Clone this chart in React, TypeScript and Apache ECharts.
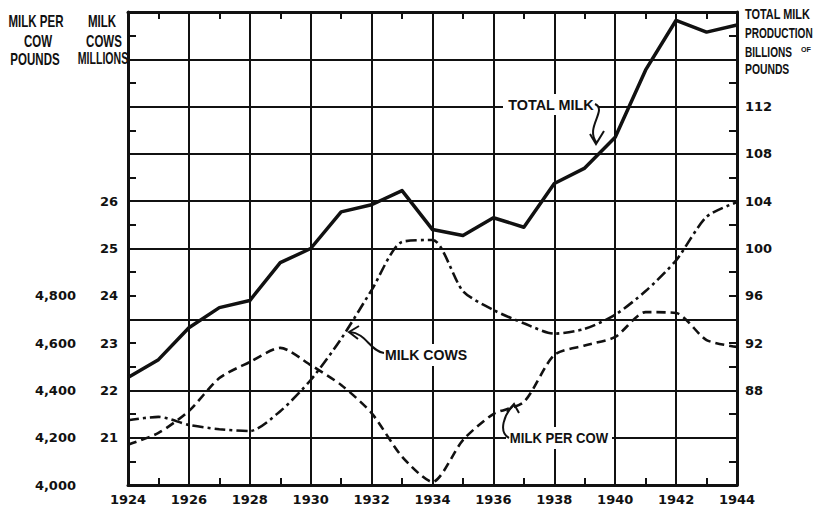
import React, { useEffect, useRef } from "react";
import * as echarts from "echarts";

const years = [1924, 1925, 1926, 1927, 1928, 1929, 1930, 1931, 1932, 1933, 1934, 1935, 1936, 1937, 1938, 1939, 1940, 1941, 1942, 1943, 1944];
// Total milk production, billions of pounds (right axis)
const totalMilk = [89.1, 90.6, 93.3, 95.0, 95.6, 98.8, 100.0, 103.1, 103.7, 104.9, 101.6, 101.1, 102.6, 101.8, 105.5, 106.8, 109.4, 115.1, 119.3, 118.3, 118.9];
// Milk cows, millions
const milkCows = [21.37, 21.44, 21.27, 21.18, 21.14, 21.56, 22.22, 23.09, 24.12, 25.14, 25.18, 24.1, 23.7, 23.42, 23.2, 23.3, 23.6, 24.1, 24.75, 25.67, 25.98];
// Milk per cow, pounds
const milkPerCow = [4170, 4220, 4313, 4452, 4520, 4580, 4507, 4423, 4304, 4120, 4013, 4190, 4300, 4351, 4550, 4590, 4626, 4731, 4727, 4613, 4584];

const cowLabels = [21, 22, 23, 24, 25, 26];
const perCowLabels = [4000, 4200, 4400, 4600, 4800];
const totalLabels = [88, 92, 96, 100, 104, 108, 112];
const gridLevels = [21, 22, 23.5, 25, 26, 27, 28, 29];

const HEAD_FONT = '"Liberation Sans", Arial, sans-serif';
const TICK_FONT = '"DejaVu Sans", sans-serif';
const INK = "#111";

function txt(text: string, x: number, y: number, size: number, sx: number, align: string = "center") {
  return {
    type: "text",
    x,
    y,
    scaleX: sx,
    z: 60,
    silent: true,
    style: {
      text,
      x: 0,
      y: 0,
      fill: INK,
      fontSize: size,
      fontWeight: "bold",
      fontFamily: HEAD_FONT,
      align,
      verticalAlign: "middle",
      textAlign: align,
      textVerticalAlign: "middle",
    },
  };
}

function whiteBox(x: number, y: number, w: number, h: number) {
  return { type: "rect", z: 55, silent: true, shape: { x, y, width: w, height: h }, style: { fill: "#fff" } };
}

function curve(x1: number, y1: number, cpx1: number, cpy1: number, cpx2: number, cpy2: number, x2: number, y2: number) {
  return {
    type: "bezierCurve",
    z: 60,
    silent: true,
    shape: { x1, y1, cpx1, cpy1, cpx2, cpy2, x2, y2 },
    style: { stroke: INK, lineWidth: 2, fill: "none" },
  };
}

function head(points: number[][]) {
  return { type: "polyline", z: 60, silent: true, shape: { points }, style: { stroke: INK, lineWidth: 2, fill: "none" } };
}

export default function App() {
  const ref = useRef<HTMLDivElement>(null);
  useEffect(() => {
    const chart = echarts.init(ref.current!, null, { renderer: "svg" });
    const tickLabel = { color: INK, fontFamily: TICK_FONT, fontWeight: "bold", fontSize: 13 };
    const axisLine = { show: true, onZero: false, lineStyle: { color: INK, width: 3 } };
    const inTick = { show: true, inside: true, length: 8, lineStyle: { color: INK, width: 2 } };
    const minor = { show: true, splitNumber: 2, length: 8, lineStyle: { color: INK, width: 2 } };

    const option = {
      animation: false,
      backgroundColor: "#fff",
      grid: { left: 128, right: 80, top: 12, bottom: 22 },
      xAxis: [
        {
          type: "value",
          position: "bottom",
          min: 1924,
          max: 1944,
          interval: 2,
          axisLine,
          axisTick: { ...inTick, length: 7 },
          minorTick: { ...minor, length: 7 },
          splitLine: { show: true, lineStyle: { color: INK, width: 2 } },
          axisLabel: { ...tickLabel, margin: 8, formatter: (v: number) => String(v) },
        },
        {
          type: "value",
          position: "top",
          min: 1924,
          max: 1944,
          interval: 2,
          axisLine,
          axisTick: { ...inTick, length: 7 },
          minorTick: { ...minor, length: 7 },
          splitLine: { show: false },
          axisLabel: { show: false },
        },
      ],
      yAxis: [
        {
          type: "value",
          position: "left",
          min: 20,
          max: 30,
          interval: 1,
          axisLine,
          axisTick: inTick,
          minorTick: minor,
          splitLine: { show: false },
          axisLabel: {
            ...tickLabel,
            margin: 10,
            formatter: (v: number) => (cowLabels.includes(v) ? String(v) : ""),
          },
        },
        {
          type: "value",
          position: "left",
          min: 4000,
          max: 6000,
          interval: 200,
          axisLine: { show: false },
          axisTick: { show: false },
          splitLine: { show: false },
          axisLabel: {
            ...tickLabel,
            margin: 52,
            formatter: (v: number) =>
              perCowLabels.includes(v) ? `${Math.floor(v / 1000)},${String(v % 1000).padStart(3, "0")}` : "",
          },
        },
        {
          type: "value",
          position: "right",
          min: 80,
          max: 120,
          interval: 4,
          axisLine,
          axisTick: inTick,
          minorTick: minor,
          splitLine: { show: false },
          axisLabel: {
            ...tickLabel,
            margin: 8,
            formatter: (v: number) => (totalLabels.includes(v) ? String(v) : ""),
          },
        },
      ],
      series: [
        {
          type: "line",
          name: "grid",
          xAxisIndex: 0,
          yAxisIndex: 0,
          data: [[1924, 20]],
          showSymbol: false,
          symbol: "none",
          silent: true,
          z: 1,
          lineStyle: { width: 0, opacity: 0 },
          markLine: {
            silent: true,
            symbol: ["none", "none"],
            label: { show: false },
            lineStyle: { color: INK, width: 2, type: "solid" },
            data: gridLevels.map((v) => ({ yAxis: v })),
          },
        },
        {
          type: "line",
          name: "Total milk",
          xAxisIndex: 0,
          yAxisIndex: 2,
          data: years.map((y, i) => [y, totalMilk[i]]),
          symbol: "none",
          silent: true,
          z: 5,
          lineStyle: { color: INK, width: 3.5, join: "round" },
        },
        {
          type: "line",
          name: "Milk cows",
          xAxisIndex: 0,
          yAxisIndex: 0,
          data: years.map((y, i) => [y, milkCows[i]]),
          symbol: "none",
          silent: true,
          smooth: 0.25,
          z: 5,
          lineStyle: { color: INK, width: 2.6, type: [11, 4, 3, 4] },
        },
        {
          type: "line",
          name: "Milk per cow",
          xAxisIndex: 0,
          yAxisIndex: 1,
          data: years.map((y, i) => [y, milkPerCow[i]]),
          symbol: "none",
          silent: true,
          smooth: 0.25,
          z: 5,
          lineStyle: { color: INK, width: 2.6, type: [9, 5] },
        },
      ],
      graphic: [
        // axis titles
        txt("MILK PER", 36, 21, 16, 0.72),
        txt("COW", 38, 41, 16, 0.72),
        txt("POUNDS", 35, 59, 16, 0.72),
        txt("MILK", 102, 21, 16, 0.72),
        txt("COWS", 104, 41, 16, 0.72),
        txt("MILLIONS", 103, 59, 16, 0.66),
        txt("TOTAL MILK", 745, 15, 14, 0.78, "left"),
        txt("PRODUCTION", 745, 33, 14, 0.72, "left"),
        txt("BILLIONS", 745, 52, 14, 0.72, "left"),
        txt("OF", 801, 49, 8, 0.9, "left"),
        txt("POUNDS", 745, 69, 14, 0.74, "left"),
        // annotations
        whiteBox(503, 94, 95, 21),
        txt("TOTAL MILK", 551, 105, 15, 0.96),
        curve(595, 104, 608, 110, 584, 128, 597, 143),
        head([[590, 134], [596, 144], [604, 131]]),
        whiteBox(381, 344, 90, 22),
        txt("MILK COWS", 426, 355, 15, 0.94),
        curve(384, 353, 370, 351, 366, 333, 350, 332),
        head([[359, 326], [349, 332], [358, 339]]),
        whiteBox(506, 427, 106, 22),
        txt("MILK PER COW", 559, 438, 15, 0.875),
        curve(509, 438, 498, 432, 504, 414, 514, 405),
        head([[507, 412], [514, 404], [519, 413]]),
      ],
    };
    chart.setOption(option as any);
    return () => chart.dispose();
  }, []);
  return <div ref={ref} style={{ position: "fixed", left: 0, top: 0, width: 817, height: 507 }} />;
}
